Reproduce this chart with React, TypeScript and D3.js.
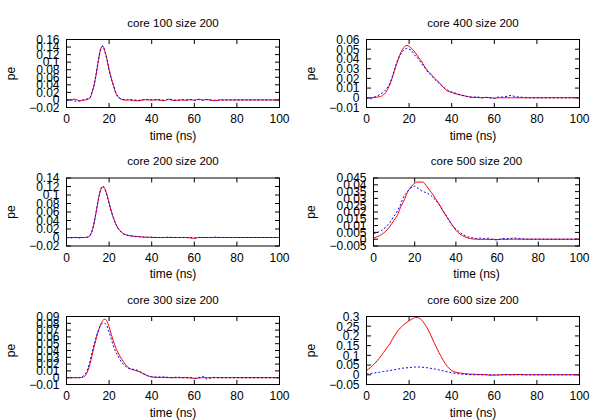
import React from "react";
import * as d3 from "d3";

const TIME = [0, 2, 4, 6, 8, 10, 11, 12, 13, 14, 15, 16, 17, 18, 19, 20, 21, 22, 23, 24, 25, 26, 27, 28, 29, 30, 32, 34, 36, 38, 40, 42, 44, 46, 48, 50, 52, 54, 56, 58, 60, 62, 64, 66, 68, 70, 72, 74, 76, 78, 80, 100];

const X_TICKS = [0, 20, 40, 60, 80, 100];

const TITLES = ["core 100 size 200", "core 200 size 200", "core 300 size 200", "core 400 size 200", "core 500 size 200", "core 600 size 200"];

const RED_100 = [0, 0.0005, 0.002, -0.002, -0.001, 0.002, 0.005, 0.02, 0.04, 0.07, 0.105, 0.133, 0.143, 0.13, 0.108, 0.08, 0.058, 0.038, 0.02, 0.009, 0.004, 0.001, 0.0, -0.001, 0.001, -0.001, -0.002, -0.002, 0.0, 0.001, -0.001, 0.001, -0.001, -0.002, 0.002, -0.001, -0.001, 0.0, -0.001, 0.001, -0.001, 0.002, 0.0, 0.001, -0.001, -0.002, 0, 0, 0, 0, 0, 0];
const BLUE_100 = [-0.001, 0.0, -0.003, -0.003, 0.001, 0.003, 0.006, 0.021, 0.042, 0.072, 0.107, 0.135, 0.142, 0.128, 0.106, 0.079, 0.057, 0.04, 0.022, 0.01, 0.005, 0.002, 0.001, 0.002, 0.0, 0.001, 0.0, -0.001, 0.001, 0.0, 0.001, 0.0, 0.001, -0.001, 0.002, 0.0, -0.001, 0.001, 0.0, 0.001, -0.001, 0.001, -0.001, 0.001, 0.0, -0.001, 0, 0, 0, 0, 0, 0];

const RED_200 = [0, 0, 0, 0, 0, 0.001, 0.004, 0.015, 0.035, 0.062, 0.09, 0.111, 0.119, 0.115, 0.1, 0.081, 0.063, 0.047, 0.034, 0.024, 0.017, 0.012, 0.008, 0.006, 0.005, 0.004, 0.003, 0.002, 0.001, 0.001, 0, 0, 0, 0, 0, 0, 0, 0, 0, -0.001, -0.002, 0, 0, 0, 0, 0, 0, 0, 0, 0, 0, 0];
const BLUE_200 = [0, -0.001, 0, -0.001, 0, 0.001, 0.005, 0.016, 0.036, 0.063, 0.091, 0.113, 0.121, 0.114, 0.099, 0.08, 0.062, 0.046, 0.033, 0.023, 0.016, 0.011, 0.008, 0.006, 0.005, 0.004, 0.002, 0.002, 0.001, 0, 0.001, 0, 0, 0, 0.001, 0, 0, 0, 0, 0, -0.001, 0, 0, 0, 0, 0.001, 0, 0, 0, 0, 0, 0];

const RED_300 = [0, 0, 0, 0, 0.001, 0.01, 0.02, 0.033, 0.046, 0.058, 0.069, 0.078, 0.084, 0.086, 0.083, 0.075, 0.064, 0.054, 0.045, 0.038, 0.032, 0.027, 0.022, 0.018, 0.015, 0.013, 0.011, 0.009, 0.006, 0.003, 0.001, 0.0005, 0.0005, 0.0005, 0, 0, 0, 0, 0, -0.0005, -0.001, -0.0005, 0, 0, 0, 0, 0, 0, 0, 0, 0, 0];
const BLUE_300 = [0, 0, 0, 0, 0.003, 0.013, 0.024, 0.037, 0.05, 0.061, 0.07, 0.077, 0.08, 0.08, 0.076, 0.067, 0.057, 0.047, 0.039, 0.033, 0.027, 0.022, 0.019, 0.016, 0.014, 0.013, 0.012, 0.01, 0.006, 0.003, 0.0015, 0.001, 0.001, 0.001, 0.0005, 0, 0.001, 0, 0, 0.0005, -0.001, 0, 0.002, -0.002, 0, 0.0005, 0, 0, 0, 0, 0, 0];

const RED_400 = [0, 0, 0.0005, 0.001, 0.003, 0.009, 0.014, 0.02, 0.027, 0.034, 0.04, 0.046, 0.05, 0.053, 0.054, 0.053, 0.051, 0.049, 0.046, 0.043, 0.04, 0.037, 0.033, 0.03, 0.027, 0.025, 0.02, 0.016, 0.011, 0.007, 0.0055, 0.004, 0.003, 0.002, 0.001, 0.0005, 0.0003, 0, 0.0003, 0, -0.0003, 0, 0, 0, 0, 0, 0, 0, 0, 0, 0, 0];
const BLUE_400 = [0, -0.001, 0.001, 0.003, 0.006, 0.011, 0.015, 0.021, 0.028, 0.035, 0.041, 0.045, 0.048, 0.05, 0.051, 0.05, 0.049, 0.046, 0.043, 0.041, 0.038, 0.035, 0.032, 0.029, 0.026, 0.024, 0.019, 0.015, 0.011, 0.008, 0.006, 0.0045, 0.003, 0.002, 0.001, 0.0005, 0.001, 0, 0.0005, 0, -0.0008, 0.0008, 0.0008, 0.0015, 0.0025, 0.001, 0.0008, 0.0003, 0, 0, 0, 0];

const RED_500 = [0.0007, 0.002, 0.0035, 0.006, 0.0095, 0.014, 0.016, 0.019, 0.023, 0.026, 0.029, 0.033, 0.036, 0.038, 0.04, 0.041, 0.042, 0.042, 0.042, 0.042, 0.0405, 0.0385, 0.0365, 0.0345, 0.0325, 0.03, 0.0255, 0.02, 0.0155, 0.011, 0.0065, 0.0037, 0.002, 0.0008, 0.0002, 0, -0.0002, 0, -0.0003, 0, -0.0003, 0, -0.0002, 0, 0, 0, 0, 0, 0, 0, 0, 0];
const BLUE_500 = [0.004, 0.005, 0.0065, 0.009, 0.0125, 0.017, 0.019, 0.022, 0.025, 0.029, 0.032, 0.034, 0.036, 0.0375, 0.0385, 0.039, 0.038, 0.037, 0.036, 0.035, 0.0345, 0.034, 0.033, 0.032, 0.0305, 0.029, 0.025, 0.0205, 0.0155, 0.0105, 0.0075, 0.005, 0.003, 0.0017, 0.001, 0.0005, 0.0008, 0.0003, 0.0008, -0.0003, -0.0005, 0.0002, 0.0006, 0.0002, 0.001, 0.0005, 0.0003, 0, 0, 0, 0, 0];

const RED_600 = [0.022, 0.038, 0.06, 0.085, 0.115, 0.145, 0.16, 0.18, 0.198, 0.215, 0.23, 0.242, 0.253, 0.262, 0.27, 0.278, 0.285, 0.291, 0.295, 0.294, 0.29, 0.281, 0.266, 0.25, 0.23, 0.208, 0.16, 0.115, 0.075, 0.042, 0.022, 0.013, 0.009, 0.006, 0.004, 0.003, 0.002, 0.001, 0.0005, -0.002, -0.002, -0.001, 0, 0.001, 0, 0.001, 0.002, 0, 0, 0, 0, 0];
const BLUE_600 = [0.004, 0.007, 0.01, 0.013, 0.017, 0.02, 0.022, 0.024, 0.026, 0.028, 0.03, 0.032, 0.034, 0.035, 0.036, 0.037, 0.038, 0.039, 0.04, 0.04, 0.04, 0.039, 0.038, 0.037, 0.035, 0.033, 0.03, 0.025, 0.02, 0.015, 0.01, 0.007, 0.004, 0.002, 0.001, 0, 0, 0, 0, 0, 0, 0, 0, 0, 0, 0, 0, 0, 0, 0, 0, 0];

const Y_TICKS_100 = [-0.02, 0, 0.02, 0.04, 0.06, 0.08, 0.1, 0.12, 0.14, 0.16];
const Y_TICKS_200 = [-0.02, 0, 0.02, 0.04, 0.06, 0.08, 0.1, 0.12, 0.14];
const Y_TICKS_300 = [-0.01, 0, 0.01, 0.02, 0.03, 0.04, 0.05, 0.06, 0.07, 0.08, 0.09];
const Y_TICKS_400 = [-0.01, 0, 0.01, 0.02, 0.03, 0.04, 0.05, 0.06];
const Y_TICKS_500 = [-0.005, 0, 0.005, 0.01, 0.015, 0.02, 0.025, 0.03, 0.035, 0.04, 0.045];
const Y_TICKS_600 = [-0.05, 0, 0.05, 0.1, 0.15, 0.2, 0.25, 0.3];

const PANELS = [
  { title: TITLES[0], red: RED_100, blue: BLUE_100, yTicks: Y_TICKS_100, col: 0, row: 0, left: 66.5 },
  { title: TITLES[1], red: RED_200, blue: BLUE_200, yTicks: Y_TICKS_200, col: 0, row: 1, left: 66.5 },
  { title: TITLES[2], red: RED_300, blue: BLUE_300, yTicks: Y_TICKS_300, col: 0, row: 2, left: 66.5 },
  { title: TITLES[3], red: RED_400, blue: BLUE_400, yTicks: Y_TICKS_400, col: 1, row: 0, left: 66.5 },
  { title: TITLES[4], red: RED_500, blue: BLUE_500, yTicks: Y_TICKS_500, col: 1, row: 1, left: 73.5 },
  { title: TITLES[5], red: RED_600, blue: BLUE_600, yTicks: Y_TICKS_600, col: 1, row: 2, left: 66.5 },
];

const FONT = "'Liberation Sans', Arial, Helvetica, sans-serif";
const fmt = d3.format("~g");

function Panel({ p }: { p: (typeof PANELS)[number] }) {
  const ox = p.col * 300;
  const oy = p.row * 138.5;
  const x0 = ox + p.left;
  const x1 = ox + 279.5;
  const y0 = oy + 39.5;
  const y1 = oy + 107.5;
  const yMin = p.yTicks[0];
  const yMax = p.yTicks[p.yTicks.length - 1];
  const xs = d3.scaleLinear().domain([0, 100]).range([x0, x1]);
  const ys = d3.scaleLinear().domain([yMin, yMax]).range([y1, y0]);
  const line = d3
    .line<number>()
    .x((_, i) => xs(TIME[i]))
    .y((d) => ys(d))
    .curve(d3.curveMonotoneX);
  const tl = 4.5;
  return (
    <g>
      <text x={(x0 + x1) / 2} y={y0 - 13} textAnchor="middle" fontSize={11.6} fontFamily={FONT}>
        {p.title}
      </text>
      <text
        transform={`translate(${ox + 15},${(y0 + y1) / 2}) rotate(-90)`}
        textAnchor="middle"
        fontSize={12}
        fontFamily={FONT}
      >
        pe
      </text>
      <text x={(x0 + x1) / 2} y={y1 + 32} textAnchor="middle" fontSize={12} fontFamily={FONT}>
        time (ns)
      </text>
      {X_TICKS.map((t) => (
        <g key={"x" + t}>
          <line x1={xs(t)} x2={xs(t)} y1={y1} y2={y1 - tl} stroke="#000" />
          <line x1={xs(t)} x2={xs(t)} y1={y0} y2={y0 + tl} stroke="#000" />
          <text x={xs(t)} y={y1 + 15.5} textAnchor="middle" fontSize={12} fontFamily={FONT}>
            {fmt(t)}
          </text>
        </g>
      ))}
      {p.yTicks.map((t) => (
        <g key={"y" + t}>
          <line x1={x0} x2={x0 + tl} y1={ys(t)} y2={ys(t)} stroke="#000" />
          <line x1={x1} x2={x1 - tl} y1={ys(t)} y2={ys(t)} stroke="#000" />
          <text x={x0 - 7} y={ys(t) + 4.3} textAnchor="end" fontSize={12} fontFamily={FONT}>
            {fmt(t)}
          </text>
        </g>
      ))}
      <path d={line(p.red) || ""} fill="none" stroke="#ff0000" strokeWidth={1} />
      <path d={line(p.blue) || ""} fill="none" stroke="#0000ff" strokeWidth={1} strokeDasharray="2,2" />
      <rect x={x0} y={y0} width={x1 - x0} height={y1 - y0} fill="none" stroke="#000" />
    </g>
  );
}

export default function App() {
  return (
    <svg width={600} height={420} style={{ position: "absolute", left: 0, top: 0, background: "#fff" }}>
      <rect x={0} y={0} width={600} height={420} fill="#fff" />
      {PANELS.map((p) => (
        <Panel key={p.title} p={p} />
      ))}
    </svg>
  );
}
